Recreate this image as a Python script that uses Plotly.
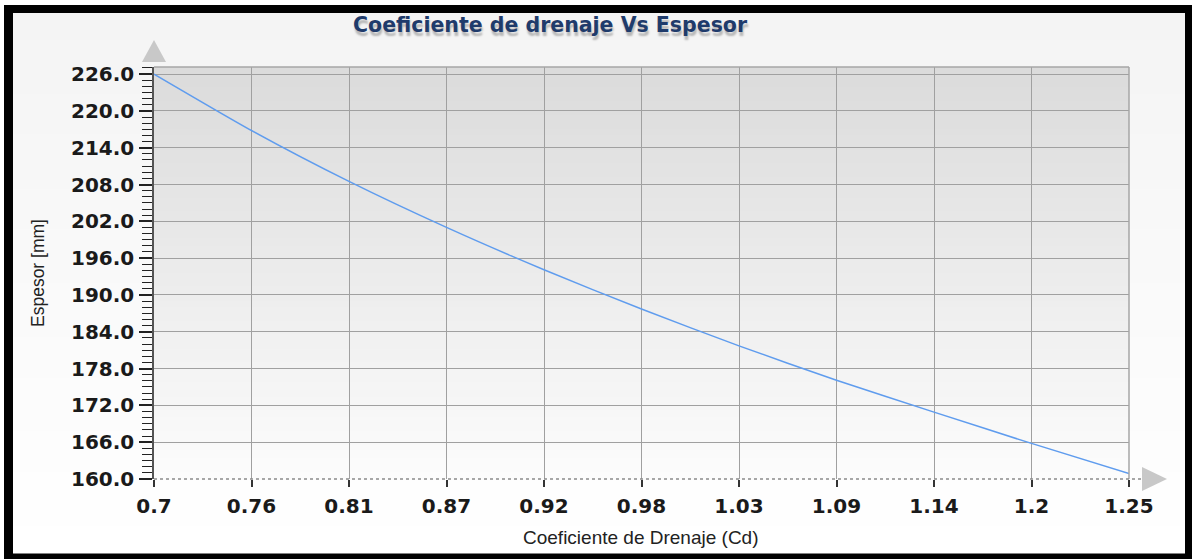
import plotly.graph_objects as go

# ---- data ----
cd_values = [0.7, 0.755, 0.81, 0.865, 0.92, 0.975, 1.03, 1.085, 1.14, 1.195, 1.25]
espesor_mm = [226.0, 216.8, 208.5, 201.0, 194.1, 187.7, 181.7, 176.1, 170.9, 165.8, 160.9]
x_tick_vals = [0.7, 0.755, 0.81, 0.865, 0.92, 0.975, 1.03, 1.085, 1.14, 1.195, 1.25]
x_tick_text = ["0.7", "0.76", "0.81", "0.87", "0.92", "0.98", "1.03", "1.09", "1.14", "1.2", "1.25"]
y_tick_vals = [160, 166, 172, 178, 184, 190, 196, 202, 208, 214, 220, 226]
y_tick_text = ["160.0", "166.0", "172.0", "178.0", "184.0", "190.0", "196.0", "202.0",
               "208.0", "214.0", "220.0", "226.0"]

title_text = "Coeficiente de drenaje Vs Espesor"
x_title = "Coeficiente de Drenaje (Cd)"
y_title = "Espesor [mm]"

# ---- layout geometry (pixels) ----
W, H = 1192, 559
ML, MR, MT, MB = 154, 63, 67, 80
PW, PH = W - ML - MR, H - MT - MB


def px(x):
    return (x - ML) / PW


def py(y):
    return (H - MB - y) / PH


def lerp(c1, c2, t):
    return "rgb(%d,%d,%d)" % tuple(round(a + (b - a) * t) for a, b in zip(c1, c2))


shapes = []
# outer black frame
shapes.append(dict(type="rect", xref="paper", yref="paper", x0=px(4), x1=px(1192), y0=py(5), y1=py(559),
                   fillcolor="black", line=dict(width=0), layer="below"))
# inner panel gradient
n = 40
top, bot = 13, 553
for i in range(n):
    y0 = top + (bot - top) * i / n
    y1 = top + (bot - top) * (i + 1) / n + 0.6
    shapes.append(dict(type="rect", xref="paper", yref="paper", x0=px(13), x1=px(1185), y0=py(y1), y1=py(y0),
                       fillcolor=lerp((244, 244, 244), (255, 255, 255), i / (n - 1)), line=dict(width=0),
                       layer="below"))
# plot area gradient
n = 60
for i in range(n):
    shapes.append(dict(type="rect", xref="paper", yref="paper", x0=0, x1=1,
                       y0=1 - (i + 1) / n - 0.002, y1=1 - i / n,
                       fillcolor=lerp((219, 219, 219), (252, 252, 252), i / (n - 1)), line=dict(width=0),
                       layer="below"))
# plot border top / right
shapes.append(dict(type="line", xref="paper", yref="paper", x0=0, x1=1, y0=1, y1=1,
                   line=dict(color="#a6a6a6", width=1.5), layer="above"))
shapes.append(dict(type="line", xref="paper", yref="paper", x0=1, x1=1, y0=0, y1=1,
                   line=dict(color="#a6a6a6", width=1.5), layer="above"))
# dotted x axis line extending to arrow
shapes.append(dict(type="line", xref="paper", yref="paper", x0=0, x1=px(1141), y0=0, y1=0,
                   line=dict(color="#8a8a8a", width=1.5, dash="dot"), layer="above"))
# arrows
shapes.append(dict(type="path", xref="paper", yref="paper",
                   path="M %f %f L %f %f L %f %f Z" % (px(142), py(62), px(166), py(62), px(154), py(40)),
                   fillcolor="#c8c8c8", line=dict(width=0), layer="above"))
shapes.append(dict(type="path", xref="paper", yref="paper",
                   path="M %f %f L %f %f L %f %f Z" % (px(1142), py(467), px(1142), py(491), px(1167), py(479)),
                   fillcolor="#c8c8c8", line=dict(width=0), layer="above"))

tick_font = dict(family="DejaVu Sans", size=20, color="#1a1a1a", weight="bold")

fig = go.Figure()
fig.add_trace(go.Scatter(x=cd_values, y=espesor_mm, mode="lines",
                         line=dict(color="#5f9cee", width=1.5, shape="spline", smoothing=0.6),
                         hoverinfo="x+y", showlegend=False))

fig.update_layout(
    width=W, height=H,
    margin=dict(l=ML, r=MR, t=MT, b=MB),
    paper_bgcolor="white",
    plot_bgcolor="rgba(0,0,0,0)",
    shapes=shapes,
    showlegend=False,
    xaxis=dict(range=[0.7, 1.25], tickmode="array", tickvals=x_tick_vals, ticktext=x_tick_text,
               showgrid=True, gridcolor="#a0a0a0", gridwidth=1.2, zeroline=False,
               showline=False, ticks="outside", ticklen=7, tickwidth=1.5, tickcolor="#333333",
               tickfont=tick_font, ticklabelstandoff=2),
    yaxis=dict(range=[160, 227.15], tickmode="array", tickvals=y_tick_vals, ticktext=y_tick_text,
               showgrid=True, gridcolor="#a0a0a0", gridwidth=1.2, zeroline=False,
               showline=True, linecolor="#555555", linewidth=1.5,
               ticks="outside", ticklen=13, tickwidth=1.5, tickcolor="#222222",
               minor=dict(dtick=1, tick0=160, ticks="outside", ticklen=10, tickwidth=1.2,
                          tickcolor="#222222", showgrid=False),
               tickfont=tick_font, ticklabelstandoff=1),
    annotations=[
        dict(text=title_text, xref="paper", yref="paper", x=px(550), y=py(25), showarrow=False,
             xanchor="center", yanchor="middle",
             font=dict(family="DejaVu Sans", size=20.5, color="#1f3b6b", weight="bold",
                       shadow="1px 4px 2px rgba(0,0,0,0.25)")),
        dict(text=x_title, xref="paper", yref="paper", x=px(641), y=py(537), showarrow=False,
             xanchor="center", yanchor="middle",
             font=dict(family="Liberation Sans", size=19, color="#222222")),
        dict(text=y_title, xref="paper", yref="paper", x=px(38), y=py(273), showarrow=False,
             xanchor="center", yanchor="middle", textangle=-90,
             font=dict(family="Liberation Sans", size=17.5, color="#222222")),
    ],
)

fig.write_html("out.html", config={"displayModeBar": False},
               post_script="document.body.style.margin='0';document.body.style.overflow='hidden';")
